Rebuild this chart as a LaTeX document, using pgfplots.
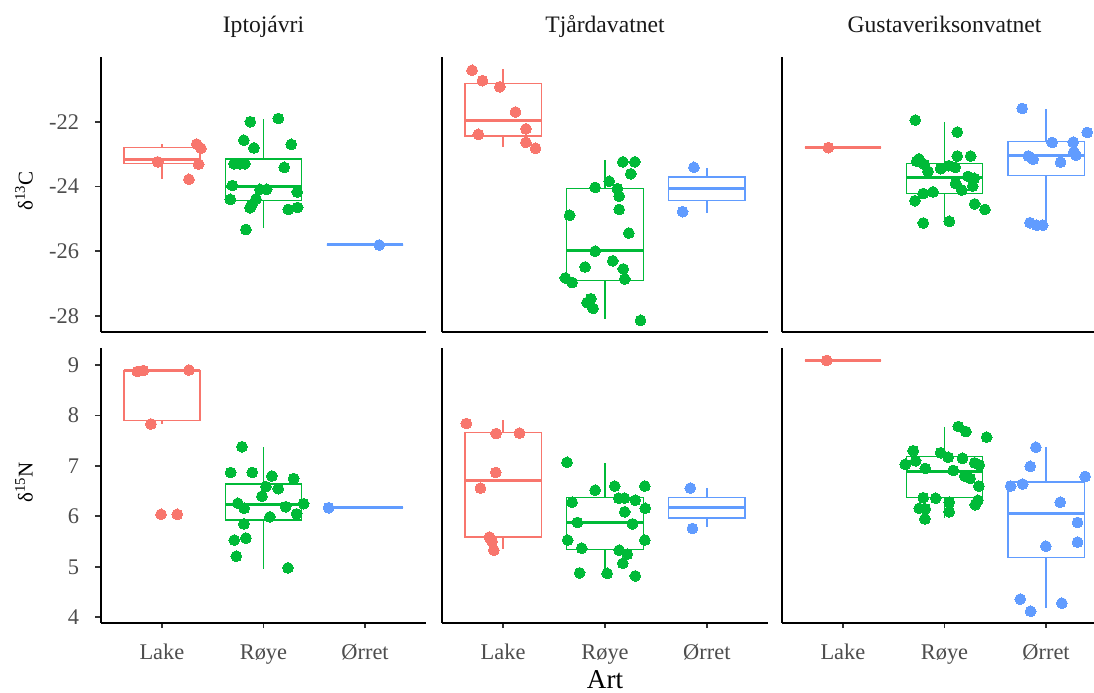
\documentclass[border=0pt]{standalone}
\usepackage{pgfplots}
\pgfplotsset{compat=1.18}
\usepackage{fontspec}
\setmainfont{Liberation Serif}

\definecolor{cL}{HTML}{F8766D}
\definecolor{cR}{HTML}{00BA38}
\definecolor{cO}{HTML}{619CFF}
\definecolor{tickgrey}{HTML}{4D4D4D}

\newcommand{\tickfont}{\fontsize{11.2}{13}\selectfont}

% box and whiskers: colour, left edge, centre, right edge,
% lower whisker, lower quartile, median, upper quartile, upper whisker
\newcommand{\bx}[9]{%
  \addplot[draw=#1, line width=0.65pt] coordinates {(#2,#6) (#4,#6) (#4,#8) (#2,#8) (#2,#6)} -- cycle;
  \addplot[draw=#1, line width=0.65pt] coordinates {(#3,#8) (#3,#9)};
  \addplot[draw=#1, line width=0.65pt] coordinates {(#3,#6) (#3,#5)};
  \addplot[draw=#1, line width=1.5pt] coordinates {(#2,#7) (#4,#7)};
}

\pgfplotsset{
  panel/.style={
    scale only axis, axis lines*=left, clip=false,
    xmin=0.4, xmax=3.6,
    axis line style={line width=0.9pt, black},
    tick align=outside, major tick length=2.75pt,
    tick style={line width=0.9pt, color=black!80},
    ticklabel style={font=\tickfont, text=tickgrey},
    yticklabel style={anchor=east, inner sep=0pt, xshift=-8pt},
    xticklabel style={anchor=base, inner sep=0pt, yshift=-15.4pt},
  },
  toprow/.style={height=137.5pt, ymin=-28.49, ymax=-19.99, xtick=\empty},
  botrow/.style={height=137.2pt, ymin=3.893, ymax=9.33,
    xtick={1,2,3}, xticklabels={Lake,Røye,Ørret}},
  pts/.style={only marks, mark=*, mark size=2.7pt, color=#1,
    mark options={solid, fill=#1, draw=#1, line width=0pt}},
}

\begin{document}
\begin{tikzpicture}
\path[use as bounding box] (0,0) rectangle (547pt,346pt);

% ---------------- delta 13C, Iptojávri ----------------
\begin{axis}[panel, toprow, at={(50.5pt,180.15pt)}, anchor=south west, width=162.5pt,
  ytick={-28,-26,-24,-22}, yticklabels={-28,-26,-24,-22}]
\bx{cL}{0.625}{1}{1.375}{-23.76}{-23.29}{-23.16}{-22.79}{-22.70}
\bx{cR}{1.625}{2}{2.375}{-25.30}{-24.44}{-24.01}{-23.15}{-21.90}
\bx{cO}{2.625}{3}{3.375}{-25.81}{-25.81}{-25.81}{-25.81}{-25.81}
\addplot[pts=cL] coordinates {(0.958,-23.24) (1.342,-22.69) (1.384,-22.82) (1.361,-23.31) (1.266,-23.78)};
\addplot[pts=cR] coordinates {
(1.870,-22.00) (2.145,-21.90) (1.807,-22.57) (1.906,-22.81) (2.273,-22.70)
(1.709,-23.30) (1.768,-23.30) (1.817,-23.30) (2.204,-23.41) (1.693,-23.97)
(1.965,-24.09) (2.031,-24.09) (2.332,-24.17) (1.673,-24.40) (1.926,-24.39)
(1.883,-24.59) (1.867,-24.66) (2.244,-24.71) (2.336,-24.65) (1.827,-25.33)};
\addplot[pts=cO] coordinates {(3.139,-25.81)};
\end{axis}

% ---------------- delta 13C, Tjårdavatnet ----------------
\begin{axis}[panel, toprow, at={(221pt,180.15pt)}, anchor=south west, width=163pt, ytick=\empty]
\bx{cL}{0.625}{1}{1.375}{-22.79}{-22.44}{-21.95}{-20.82}{-20.36}
\bx{cR}{1.625}{2}{2.375}{-28.11}{-26.90}{-25.97}{-24.07}{-23.18}
\bx{cO}{2.625}{3}{3.375}{-24.81}{-24.44}{-24.07}{-23.71}{-23.42}
\addplot[pts=cL] coordinates {(0.695,-20.41) (0.797,-20.73) (0.968,-20.92) (1.121,-21.70) (1.224,-22.22) (0.757,-22.39) (1.224,-22.64) (1.318,-22.82)};
\addplot[pts=cR] coordinates {
(2.175,-23.24) (2.293,-23.24) (2.253,-23.61) (2.041,-23.84) (1.903,-24.03)
(2.122,-24.07) (2.139,-24.30) (2.139,-24.71) (1.653,-24.89) (2.234,-25.44)
(1.903,-26.00) (2.076,-26.30) (1.804,-26.49) (2.179,-26.55) (1.611,-26.83)
(1.677,-26.97) (2.194,-26.86) (1.860,-27.47) (1.824,-27.59) (1.883,-27.77)
(2.349,-28.14)};
\addplot[pts=cO] coordinates {(2.873,-23.41) (2.762,-24.78)};
\end{axis}

% ---------------- delta 13C, Gustaveriksonvatnet ----------------
\begin{axis}[panel, toprow, at={(391pt,180.15pt)}, anchor=south west, width=156pt, xmax=3.472, ytick=\empty]
\bx{cL}{0.625}{1}{1.375}{-22.80}{-22.80}{-22.80}{-22.80}{-22.80}
\bx{cR}{1.625}{2}{2.375}{-25.06}{-24.22}{-23.73}{-23.30}{-22.02}
\bx{cO}{2.625}{3}{3.375}{-25.19}{-23.66}{-23.03}{-22.62}{-21.60}
\addplot[pts=cL] coordinates {(0.856,-22.80)};
\addplot[pts=cR] coordinates {
(1.712,-21.95) (2.126,-22.32) (2.126,-23.06) (2.257,-23.06) (1.726,-23.22)
(1.748,-23.15) (1.801,-23.32) (1.837,-23.53) (1.962,-23.45) (2.041,-23.36)
(2.106,-23.41) (2.231,-23.69) (2.293,-23.75) (2.277,-23.99) (2.110,-23.91)
(2.169,-24.11) (1.789,-24.22) (1.886,-24.17) (1.709,-24.44) (2.297,-24.54)
(2.398,-24.71) (1.791,-25.13) (2.047,-25.08)};
\addplot[pts=cO] coordinates {
(2.765,-21.59) (3.405,-22.33) (3.060,-22.64) (3.267,-22.63) (2.824,-23.06)
(2.873,-23.16) (3.143,-23.25) (3.274,-22.93) (3.294,-23.03) (2.841,-25.12)
(2.907,-25.20) (2.966,-25.20)};
\end{axis}

% ---------------- delta 15N, Iptojávri ----------------
\begin{axis}[panel, botrow, at={(50.5pt,34.65pt)}, anchor=south west, width=162.5pt,
  ytick={4,5,6,7,8,9}, yticklabels={4,5,6,7,8,9}]
\bx{cL}{0.625}{1}{1.375}{7.83}{7.90}{8.89}{8.89}{8.90}
\bx{cR}{1.625}{2}{2.375}{4.96}{5.93}{6.23}{6.64}{7.38}
\bx{cO}{2.625}{3}{3.375}{6.17}{6.17}{6.17}{6.17}{6.17}
\addplot[pts=cL] coordinates {(0.757,8.87) (0.816,8.89) (1.266,8.90) (0.892,7.83) (0.991,6.04) (1.151,6.04)};
\addplot[pts=cR] coordinates {
(1.788,7.38) (1.677,6.87) (1.889,6.87) (2.083,6.80) (2.297,6.75)
(2.024,6.59) (2.145,6.55) (1.985,6.40) (1.748,6.26) (1.810,6.16)
(2.218,6.19) (2.395,6.25) (2.326,6.05) (2.063,5.99) (1.807,5.85)
(1.712,5.53) (1.827,5.57) (1.732,5.21) (2.241,4.98)};
\addplot[pts=cO] coordinates {(2.641,6.17)};
\end{axis}

% ---------------- delta 15N, Tjårdavatnet ----------------
\begin{axis}[panel, botrow, at={(221pt,34.65pt)}, anchor=south west, width=163pt, ytick=\empty]
\bx{cL}{0.625}{1}{1.375}{5.35}{5.59}{6.72}{7.66}{7.90}
\bx{cR}{1.625}{2}{2.375}{4.87}{5.35}{5.87}{6.37}{7.06}
\bx{cO}{2.625}{3}{3.375}{5.78}{5.97}{6.17}{6.37}{6.56}
\addplot[pts=cL] coordinates {(0.639,7.84) (0.931,7.64) (1.161,7.65) (0.928,6.87) (0.777,6.56) (0.866,5.59) (0.892,5.50) (0.909,5.33)};
\addplot[pts=cR] coordinates {
(1.627,7.07) (1.903,6.52) (2.096,6.60) (2.391,6.60) (1.677,6.28)
(2.135,6.36) (2.191,6.36) (2.297,6.32) (2.395,6.16) (2.194,6.09)
(1.729,5.88) (2.270,5.85) (1.633,5.53) (1.771,5.37) (2.139,5.33)
(2.218,5.25) (2.175,5.07) (2.391,5.53) (1.751,4.88) (2.021,4.87)
(2.297,4.82)};
\addplot[pts=cO] coordinates {(2.838,6.56) (2.858,5.76)};
\end{axis}

% ---------------- delta 15N, Gustaveriksonvatnet ----------------
\begin{axis}[panel, botrow, at={(391pt,34.65pt)}, anchor=south west, width=156pt, xmax=3.472, ytick=\empty]
\bx{cL}{0.625}{1}{1.375}{9.09}{9.09}{9.09}{9.09}{9.09}
\bx{cR}{1.625}{2}{2.375}{5.96}{6.37}{6.89}{7.19}{7.77}
\bx{cO}{2.625}{3}{3.375}{4.18}{5.18}{6.06}{6.68}{7.37}
\addplot[pts=cL] coordinates {(0.840,9.09)};
\addplot[pts=cR] coordinates {
(2.136,7.78) (2.211,7.68) (2.415,7.57) (1.692,7.30) (1.962,7.26)
(2.037,7.17) (2.178,7.15) (1.716,7.10) (1.614,7.03) (2.297,7.06)
(2.342,7.02) (1.810,6.95) (2.086,6.91) (2.198,6.80) (2.253,6.75)
(2.339,6.60) (1.791,6.37) (1.913,6.36) (2.047,6.28) (2.329,6.32)
(2.303,6.23) (1.751,6.16) (1.810,6.15) (2.047,6.09) (1.807,5.95)};
\addplot[pts=cO] coordinates {
(2.900,7.37) (2.844,6.99) (3.385,6.79) (2.651,6.60) (2.769,6.64)
(3.139,6.28) (3.310,5.88) (3.310,5.49) (2.998,5.41) (2.746,4.36)
(2.848,4.12) (3.156,4.28)};
\end{axis}

% facet strip titles
\node[anchor=base, font=\fontsize{11.8}{14}\selectfont, text=black!90] at (131.75pt,329.6pt) {Iptojávri};
\node[anchor=base, font=\fontsize{11.8}{14}\selectfont, text=black!90] at (302.5pt,329.6pt) {Tjårdavatnet};
\node[anchor=base, font=\fontsize{11.8}{14}\selectfont, text=black!90] at (472.25pt,329.6pt) {Gustaveriksonvatnet};

% axis titles
\node[rotate=90, font=\fontsize{10.5}{12}\selectfont] at (12pt,250.5pt) {δ\textsuperscript{13}C};
\node[rotate=90, font=\fontsize{10.5}{12}\selectfont] at (12pt,104.75pt) {δ\textsuperscript{15}N};
\node[anchor=base, font=\fontsize{13.6}{16}\selectfont, inner sep=0pt] at (302.5pt,1.8pt) {Art};
\end{tikzpicture}
\end{document}
